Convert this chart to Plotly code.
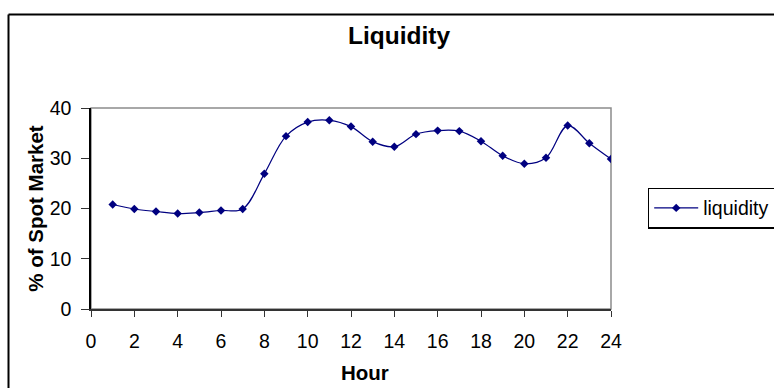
import plotly.graph_objects as go

# Hourly liquidity as a share of the spot market
hours = list(range(1, 25))
liquidity = [20.8, 19.9, 19.4, 19.0, 19.2, 19.6, 19.9, 26.9, 34.4, 37.2, 37.55, 36.3,
             33.3, 32.3, 34.8, 35.5, 35.4, 33.4, 30.5, 28.9, 30.1, 36.5, 33.0, 29.85]

x_ticks = list(range(0, 25, 2))
y_ticks = [0, 10, 20, 30, 40]

FONT = "Liberation Sans, Arial, sans-serif"
NAVY = "#000080"

W, H = 774, 388
L, R, T, B = 91, 163, 108, 79
pw, ph = W - L - R, H - T - B


def px_x(px):
    return (px - L) / pw


def px_y(py):
    return (H - B - py) / ph


fig = go.Figure()
fig.add_trace(go.Scatter(
    x=hours, y=liquidity, name="liquidity", mode="lines+markers",
    line=dict(color=NAVY, width=1.2, shape="spline", smoothing=1),
    marker=dict(symbol="diamond", size=6.5, color=NAVY),
))

shapes = [
    # grey plot-area border (top / right)
    dict(type="rect", xref="paper", yref="paper", x0=0, y0=0, x1=1, y1=1,
         line=dict(color="#8c8c8c", width=1.5), layer="below"),
    # outer chart frame
    dict(type="line", xref="paper", yref="paper", x0=px_x(8.5), x1=px_x(8.5),
         y0=px_y(14.5), y1=px_y(400), line=dict(color="black", width=2)),
    dict(type="line", xref="paper", yref="paper", x0=px_x(8.5), x1=px_x(800),
         y0=px_y(14.5), y1=px_y(14.5), line=dict(color="black", width=2)),
]

fig.update_layout(
    width=W, height=H,
    margin=dict(l=L, r=R, t=T, b=B, pad=0, autoexpand=False),
    paper_bgcolor="white", plot_bgcolor="white",
    font=dict(family=FONT, color="black"),
    title=dict(text="<b>Liquidity</b>", x=399 / W, xref="container", xanchor="center",
               y=1 - 35.5 / H, yref="container", yanchor="middle",
               font=dict(size=24.5, family=FONT, color="black")),
    xaxis=dict(range=[0, 24], tickvals=x_ticks, ticktext=[str(v) for v in x_ticks],
               showgrid=False, zeroline=False, showline=True, linecolor="#333333",
               linewidth=1.5, ticks="outside", ticklen=6, tickcolor="#333333",
               tickwidth=1.2, tickfont=dict(size=19.5, family=FONT),
               ticklabelstandoff=8, automargin=False),
    yaxis=dict(range=[0, 40], tickvals=y_ticks, ticktext=[str(v) for v in y_ticks],
               showgrid=False, zeroline=False, showline=True, linecolor="black",
               linewidth=1.5, ticks="outside", ticklen=8, tickcolor="#333333",
               tickwidth=1.2, tickfont=dict(size=19.5, family=FONT),
               ticklabelstandoff=6, automargin=False,
               title=dict(text="<b>% of Spot Market</b>", font=dict(size=20.5, family=FONT),
                          standoff=0)),
    showlegend=True,
    legend=dict(x=px_x(648), xanchor="left", y=px_y(208), yanchor="middle",
                bordercolor="black", borderwidth=1.2, bgcolor="white",
                font=dict(size=19.5, family=FONT), itemwidth=44),
    shapes=shapes,
    annotations=[dict(text="<b>Hour</b>", xref="paper", yref="paper",
                      x=px_x(365), y=px_y(372.5), xanchor="center", yanchor="middle",
                      showarrow=False, font=dict(size=20.5, family=FONT))],
)

fig.write_html("out.html")
